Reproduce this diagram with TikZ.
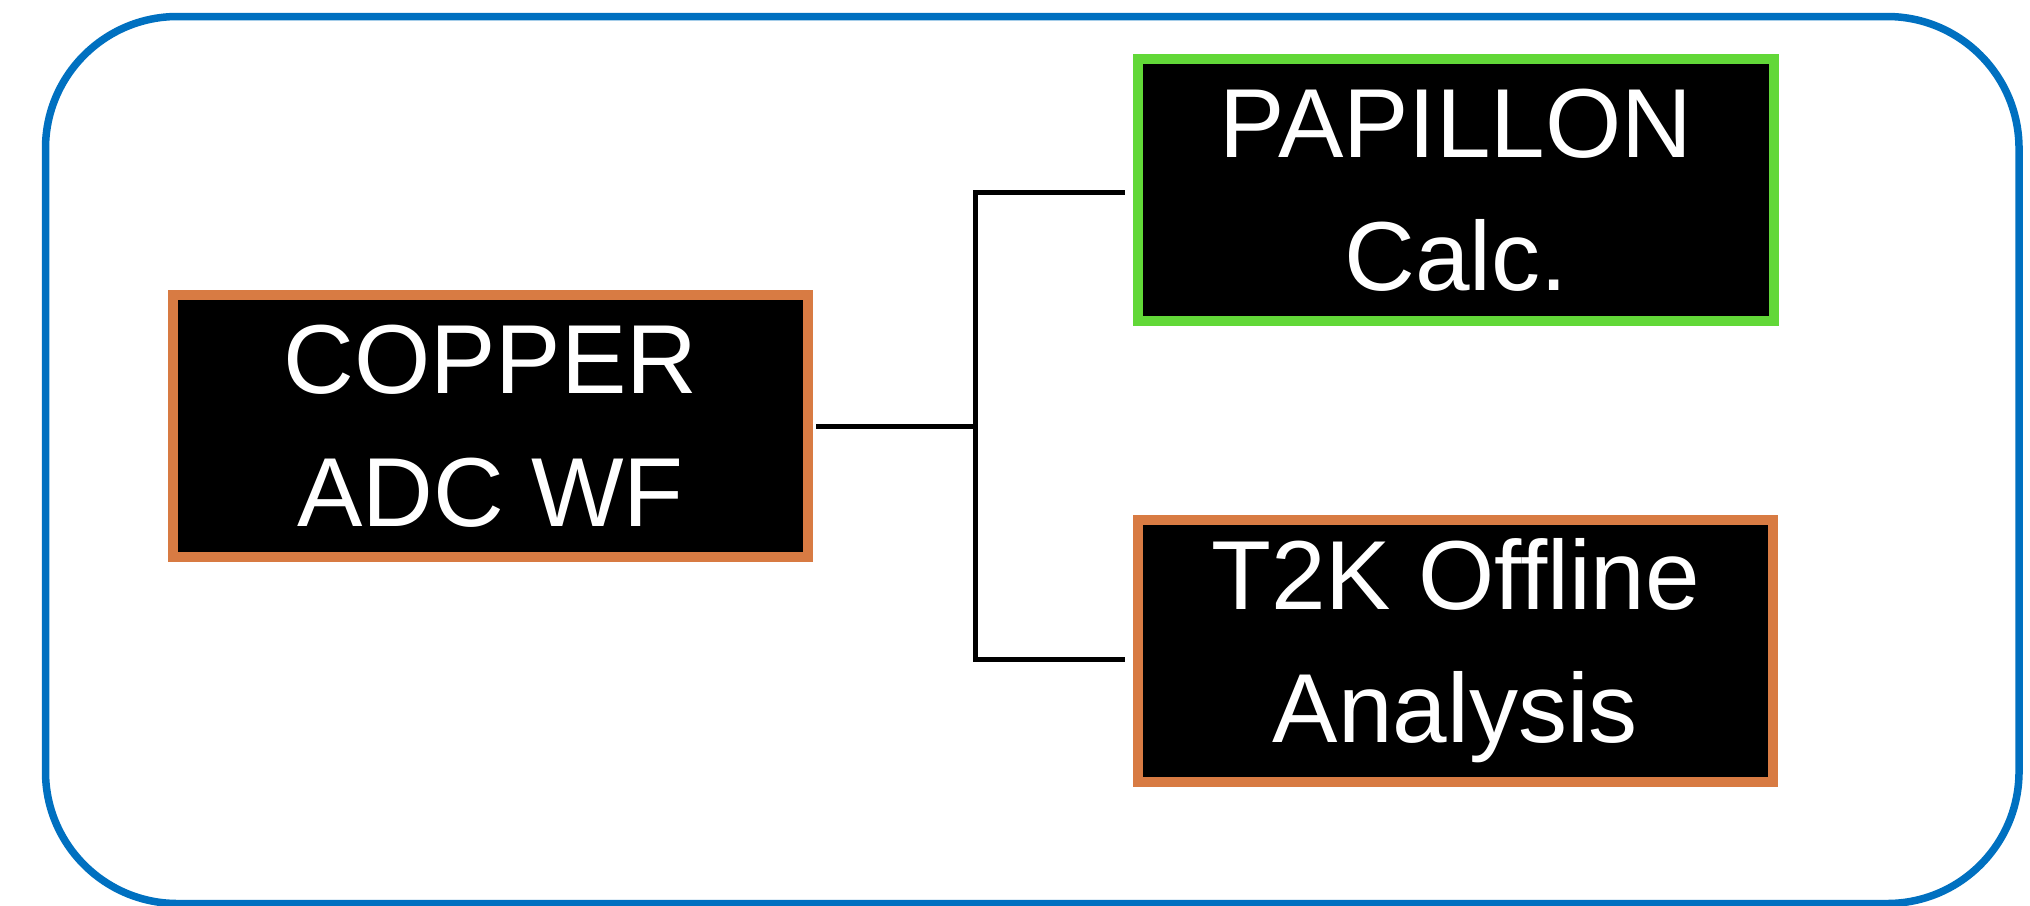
\documentclass[tikz,border=0pt]{standalone}
\usepackage{fontspec}
\setmainfont{Liberation Sans}
\usepackage{tikz}

\definecolor{frameblue}{HTML}{0070C0}
\definecolor{boxorange}{HTML}{D87B43}
\definecolor{boxgreen}{HTML}{62D838}

\tikzset{
  box/.style={draw=boxorange, line width=0.1cm, fill=black, text=white,
    align=center, inner sep=0pt, minimum width=6.35cm, minimum height=2.62cm,
    font=\fontsize{27.9pt}{37.8pt}\selectfont},
  link/.style={line width=0.05cm, line cap=rect},
}

\begin{document}
\begin{tikzpicture}
                \useasboundingbox (0, 0) rectangle (20.30, 9.05);
                \draw[frameblue, line width=0.075cm, rounded corners=1.32cm] (0.455, 0.015) rectangle (20.19, 8.885);
                \node[box] (copper) at (4.905, 4.79) {COPPER\\ADC WF};
                \node[box, draw=boxgreen, minimum width=6.36cm] (papillon) at (14.56, 7.15) {PAPILLON\\Calc.};
                \node[box] (t2k) at (14.555, 2.54) {T2K Offline\\Analysis};
                \coordinate (split) at (9.75, 4.77);
                \draw[link] ([xshift=0.05cm]copper.east) -- (copper.east -| split);
                \draw[link] ([xshift=-0.11cm, yshift=-0.02cm]papillon.west) -| (split)
                    |- ([xshift=-0.11cm, yshift=-0.085cm]t2k.west);
\end{tikzpicture}
\end{document}
